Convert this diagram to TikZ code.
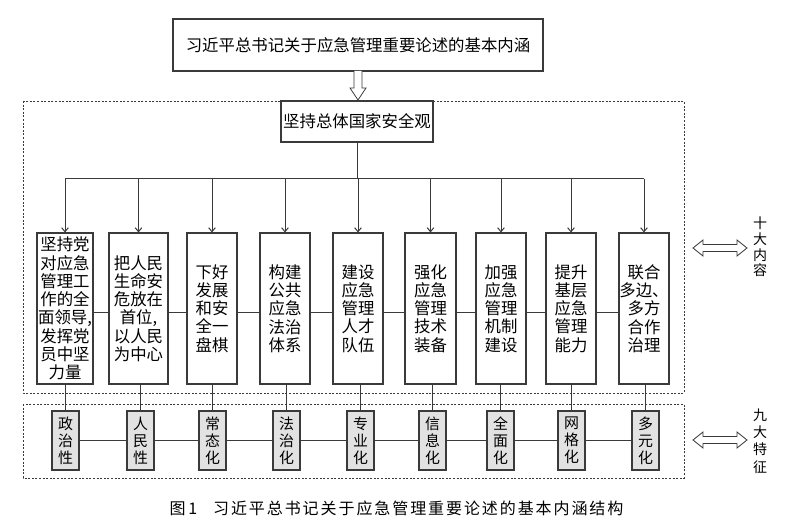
\documentclass[tikz,border=0pt]{standalone}
\usepackage{fontspec}
\setmainfont{Noto Sans CJK SC}
\newfontfamily\capfont[LetterSpace=12]{Noto Sans CJK SC}
\usetikzlibrary{arrows.meta,calc}
\definecolor{ln}{HTML}{3A3A3A}
\definecolor{gf}{HTML}{E2E2E2}
\begin{document}
\begin{tikzpicture}[x=0.75pt,y=-0.75pt,
  box/.style={draw=ln, line width=0.8pt, rectangle, inner sep=0pt, align=center,
    font=\fontsize{12.3}{13.7}\selectfont},
  colbox/.style={box, minimum height=113.25pt},
  featbox/.style={draw=ln, fill=gf, line width=0.8pt, rectangle, inner sep=0pt, align=center,
    minimum width=20.25pt, minimum height=44.25pt, font=\fontsize{11.2}{12.75}\selectfont},
  conn/.style={draw=ln, line width=0.75pt},
  arr/.style={conn, -{Straight Barb[length=3pt,width=5pt]}},
  dashbox/.style={draw=ln, line width=0.7pt, dash pattern=on 1.5pt off 1.2pt},
  hollow/.style={draw=ln, line width=0.6pt, fill=white, line join=miter},
  vlabel/.style={inner sep=0pt, align=center}
]
\useasboundingbox (0,0) rectangle (800,523);
\fill[white] (0,0) rectangle (800,523);

% dashed frames
\draw[dashbox] (23,101) rectangle (684,393);
\draw[dashbox] (23,404) rectangle (684,478);

% title and core
\node[box, minimum width=277.5pt, minimum height=39pt] (title) at (358,45) {习近平总书记关于应急管理重要论述的基本内涵};
\node[box, minimum width=114pt, minimum height=30.75pt, fill=white] (core) at (357,121.5) {坚持总体国家安全观};

% hollow down arrow
\draw[hollow] (354,71) -- (354,88) -- (350,88) -- (358,100) -- (366,88) -- (362,88) -- (362,71);

% ten contents
\node[colbox, minimum width=42pt]    (c1) at (65,308.5)  {坚持党\\对应急\\管理工\\作的全\\面领导,\\发挥党\\员中坚\\力量};
\node[colbox, minimum width=44.25pt] (c2) at (138.5,308.5) {把人民\\生命安\\危放在\\首位,\\以人民\\为中心};
\node[colbox, minimum width=37.5pt]  (c3) at (212,308.5) {下好\\发展\\和安\\全一\\盘棋};
\node[colbox, minimum width=37.5pt]  (c4) at (285,308.5) {构建\\公共\\应急\\法治\\体系};
\node[colbox, minimum width=37.5pt]  (c5) at (358,308.5) {建设\\应急\\管理\\人才\\队伍};
\node[colbox, minimum width=38.25pt] (c6) at (430.5,308.5) {强化\\应急\\管理\\技术\\装备};
\node[colbox, minimum width=37.5pt]  (c7) at (501,308.5) {加强\\应急\\管理\\机制\\建设};
\node[colbox, minimum width=37.5pt]  (c8) at (571,308.5) {提升\\基层\\应急\\管理\\能力};
\node[colbox, minimum width=37.5pt]  (c9) at (644,308.5) {联合\\多边、\\多方\\合作\\治理};

% branch from core
\coordinate (br) at (357,179);
\draw[conn] (core.south) -- (br);
\draw[conn] (c1.north |- br) -- (c9.north |- br);
\foreach \i in {1,...,9} {
  \draw[arr] (c\i.north |- br) -- (c\i.north);
}
% horizontal links between content boxes
\foreach \a/\b in {1/2,2/3,3/4,4/5,5/6,6/7,7/8,8/9} {
  \draw[conn] ($(c\a.east)+(0,4.5)$) -- ($(c\b.west)+(0,4.5)$);
}

% nine features
\node[featbox] (f1) at (65.5,440.5)  {政\\治\\性};
\node[featbox] (f2) at (140.5,440.5) {人\\民\\性};
\node[featbox] (f3) at (212.5,440.5) {常\\态\\化};
\node[featbox] (f4) at (286.5,440.5) {法\\治\\化};
\node[featbox] (f5) at (360.5,440.5) {专\\业\\化};
\node[featbox] (f6) at (432.5,440.5) {信\\息\\化};
\node[featbox] (f7) at (500.5,440.5) {全\\面\\化};
\node[featbox] (f8) at (571.5,440.5) {网\\格\\化};
\node[featbox] (f9) at (645.5,440.5) {多\\元\\化};
\foreach \i in {1,...,9} {
  \draw[conn] (f\i.north) -- (f\i.north |- c\i.south);
}
\foreach \a/\b in {1/2,2/3,3/4,4/5,5/6,6/7,7/8,8/9} {
  \draw[conn] (f\a.east) -- (f\b.west);
}

% right-side double arrows and labels
\draw[hollow] (693,248) -- (703,240) -- (703,244.5) -- (737,244.5) -- (737,240) -- (747,248)
  -- (737,256) -- (737,251.5) -- (703,251.5) -- (703,256) -- cycle;
\draw[hollow] (693,440) -- (703,432) -- (703,436.5) -- (737,436.5) -- (737,432) -- (747,440)
  -- (737,448) -- (737,443.5) -- (703,443.5) -- (703,448) -- cycle;
\node[vlabel, font=\fontsize{10.5}{11.8}\selectfont] (ten) at (760,247) {十\\大\\内\\容};
\node[vlabel, font=\fontsize{10.5}{13}\selectfont] (nine) at (760,441) {九\\大\\特\\征};

% caption
\node[inner sep=0pt, font=\capfont\fontsize{12}{14}\selectfont] (cap) at (396.5,508) {图\,1\quad 习近平总书记关于应急管理重要论述的基本内涵结构};
\end{tikzpicture}
\end{document}
